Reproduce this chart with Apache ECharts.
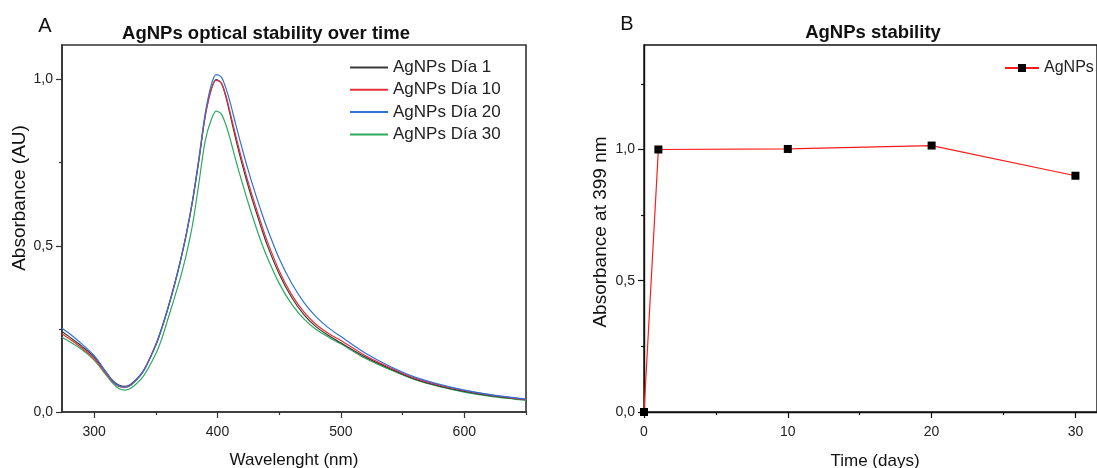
<!DOCTYPE html>
<html><head><meta charset="utf-8">
<script src="https://cdn.jsdelivr.net/npm/echarts@6/dist/echarts.min.js"></script>
<style>html,body{margin:0;padding:0;background:#fff}#c{width:1097px;height:468px}</style>
</head><body><div id="c"></div>
<script>
// ---- data ----
const wavelengths = [274,280,290,300,310,315,320,325,330,340,350,355,360,365,370,375,380,385,390,395,399,403,407,410,415,420,425,430,435,440,450,460,470,480,490,500,520,540,560,580,600,620,640,650];
const dia1  = [0.242,0.226,0.198,0.166,0.118,0.095,0.081,0.077,0.084,0.125,0.203,0.255,0.315,0.382,0.456,0.540,0.640,0.760,0.890,0.972,1.000,0.990,0.945,0.898,0.818,0.745,0.678,0.617,0.560,0.505,0.415,0.345,0.293,0.256,0.230,0.208,0.165,0.130,0.099,0.078,0.062,0.050,0.041,0.037];
const dia10 = [0.235,0.220,0.193,0.161,0.114,0.091,0.077,0.074,0.081,0.123,0.201,0.253,0.313,0.380,0.454,0.538,0.638,0.758,0.888,0.970,0.998,0.990,0.950,0.905,0.828,0.756,0.690,0.629,0.572,0.517,0.425,0.354,0.301,0.263,0.236,0.215,0.169,0.133,0.102,0.081,0.065,0.052,0.042,0.038];
const dia20 = [0.252,0.236,0.205,0.170,0.119,0.094,0.078,0.075,0.082,0.123,0.201,0.253,0.313,0.380,0.455,0.540,0.642,0.765,0.897,0.985,1.015,1.008,0.972,0.935,0.862,0.792,0.726,0.665,0.608,0.555,0.462,0.388,0.330,0.286,0.253,0.227,0.177,0.137,0.105,0.083,0.066,0.053,0.043,0.039];
const dia30 = [0.225,0.212,0.188,0.156,0.110,0.087,0.071,0.066,0.072,0.108,0.175,0.222,0.282,0.342,0.405,0.478,0.568,0.690,0.815,0.880,0.905,0.897,0.862,0.825,0.755,0.690,0.628,0.570,0.516,0.468,0.387,0.325,0.280,0.248,0.225,0.205,0.161,0.127,0.097,0.076,0.060,0.048,0.039,0.035];
const seriesNames = ['AgNPs Día 1','AgNPs Día 10','AgNPs Día 20','AgNPs Día 30'];

const days = [0, 1, 10, 20, 30];
const absorbance399 = [0, 1.000, 1.002, 1.015, 0.900];

const xTicksA = [300, 400, 500, 600];
const xMinorA = [350, 450, 550, 650];
const yTicks = [0, 0.5, 1.0];
const yMinorA = [0.25, 0.75];
const xTicksB = [0, 10, 20, 30];
const xMinorB = [5, 15, 25];
const yMinorB = [0.25, 0.75, 1.25];

// ---- chart ----
const FONT = "'Liberation Sans', Arial, sans-serif";
const chart = echarts.init(document.getElementById('c'), null, {renderer: 'canvas'});
const fmt = v => v.toFixed(1).replace('.', ',');
const pairs = ys => wavelengths.map((w, i) => [w, ys[i]]);
const colors = ['#3a3a3a', '#e8303a', '#2f72d8', '#2aaa5c'];
const lbl = {fontFamily: FONT, fontSize: 14, color: '#222'};

function majorAxis(extra) {
  return Object.assign({
    type: 'value', splitLine: {show: false},
    axisLine: {show: true, lineStyle: {color: '#333', width: 1.6}},
    axisTick: {show: true, inside: false, length: 6, lineStyle: {color: '#333', width: 1.2}},
    axisLabel: Object.assign({show: true, margin: 9}, lbl)
  }, extra);
}
function minorAxis(extra) {
  return Object.assign({
    type: 'value', splitLine: {show: false}, offset: 0,
    axisLine: {show: false},
    axisTick: {show: true, inside: false, length: 3, lineStyle: {color: '#333', width: 1.2}},
    axisLabel: {show: false}
  }, extra);
}

const option = {
  animation: false,
  backgroundColor: '#fff',
  grid: [
    {left: 62, top: 45, width: 464, height: 367, show: true, borderColor: '#333', borderWidth: 1.6, containLabel: false},
    {left: 644, top: 45, width: 456, height: 367, show: true, borderColor: '#111', borderWidth: 1.4, containLabel: false}
  ],
  xAxis: [
    majorAxis({gridIndex: 0, position: 'bottom', min: 274, max: 650, axisTick: {show: true, length: 6, customValues: xTicksA, lineStyle: {color: '#333', width: 1.2}}, axisLabel: Object.assign({margin: 13, customValues: xTicksA}, lbl)}),
    minorAxis({gridIndex: 0, position: 'bottom', min: 274, max: 650, axisTick: {show: true, length: 3, customValues: xMinorA, lineStyle: {color: '#333', width: 1.2}}}),
    majorAxis({gridIndex: 1, position: 'bottom', min: 0, max: 31.5, axisLine: {show: true, lineStyle: {color: '#111', width: 1.4}}, axisTick: {show: true, length: 6, customValues: xTicksB, lineStyle: {color: '#111', width: 1.2}}, axisLabel: Object.assign({margin: 13, customValues: xTicksB}, lbl)}),
    minorAxis({gridIndex: 1, position: 'bottom', min: 0, max: 31.5, axisTick: {show: true, length: 3, customValues: xMinorB, lineStyle: {color: '#111', width: 1.2}}})
  ],
  yAxis: [
    majorAxis({gridIndex: 0, position: 'left', min: 0, max: 1.104, axisTick: {show: true, length: 6, customValues: yTicks, lineStyle: {color: '#333', width: 1.2}}, axisLabel: Object.assign({margin: 9, customValues: yTicks, formatter: fmt}, lbl)}),
    minorAxis({gridIndex: 0, position: 'left', min: 0, max: 1.104, axisTick: {show: true, length: 3, customValues: yMinorA, lineStyle: {color: '#333', width: 1.2}}}),
    majorAxis({gridIndex: 1, position: 'left', min: 0, max: 1.398, axisLine: {show: true, lineStyle: {color: '#111', width: 1.4}}, axisTick: {show: true, length: 6, customValues: yTicks, lineStyle: {color: '#111', width: 1.2}}, axisLabel: Object.assign({margin: 9, customValues: yTicks, formatter: fmt}, lbl)}),
    minorAxis({gridIndex: 1, position: 'left', min: 0, max: 1.398, axisTick: {show: true, length: 3, customValues: yMinorB, lineStyle: {color: '#111', width: 1.2}}})
  ],
  legend: [
    {
      data: seriesNames, orient: 'vertical', left: 350, top: 59, padding: 0,
      itemWidth: 38, itemHeight: 2, itemGap: 5.3, icon: 'rect',
      textStyle: {fontFamily: FONT, fontSize: 17, color: '#222', lineHeight: 17}
    },
    {
      data: ['AgNPs'], orient: 'horizontal', left: 1004, top: 60, padding: 0,
      itemWidth: 34, itemHeight: 10,
      textStyle: {fontFamily: FONT, fontSize: 16, color: '#222'}
    }
  ],
  series: [
    ...[dia1, dia10, dia20, dia30].map((ys, i) => ({
      name: seriesNames[i], type: 'line', xAxisIndex: 0, yAxisIndex: 0,
      data: pairs(ys), showSymbol: false, symbol: 'none', smooth: 0.3,
      lineStyle: {color: colors[i], width: 1.2}, itemStyle: {color: colors[i]}, z: [3, 4, 5, 2][i]
    })),
    {
      name: 'AgNPs', type: 'line', xAxisIndex: 2, yAxisIndex: 2,
      data: days.map((d, i) => [d, absorbance399[i]]),
      symbol: 'rect', symbolSize: 8,
      lineStyle: {color: '#ff1a1a', width: 1.2}, itemStyle: {color: '#000'}
    }
  ],
  graphic: [
    {type: 'text', x: 45, y: 26, style: {text: 'A', font: `20px ${FONT}`, fill: '#111', align: 'center', verticalAlign: 'middle'}},
    {type: 'text', x: 627, y: 24, style: {text: 'B', font: `20px ${FONT}`, fill: '#111', align: 'center', verticalAlign: 'middle'}},
    {type: 'text', x: 266, y: 34, style: {text: 'AgNPs optical stability over time', font: `bold 18.5px ${FONT}`, fill: '#111', align: 'center', verticalAlign: 'middle'}},
    {type: 'text', x: 873, y: 33, style: {text: 'AgNPs stability', font: `bold 18.5px ${FONT}`, fill: '#111', align: 'center', verticalAlign: 'middle'}},
    {type: 'text', x: 294, y: 460, style: {text: 'Wavelenght (nm)', font: `17px ${FONT}`, fill: '#111', align: 'center', verticalAlign: 'middle'}},
    {type: 'text', x: 875, y: 461, style: {text: 'Time (days)', font: `17px ${FONT}`, fill: '#111', align: 'center', verticalAlign: 'middle'}},
    {type: 'text', x: 20, y: 198, rotation: Math.PI / 2, style: {text: 'Absorbance (AU)', font: `19px ${FONT}`, fill: '#111', align: 'center', verticalAlign: 'middle'}},
    {type: 'text', x: 601, y: 232, rotation: Math.PI / 2, style: {text: 'Absorbance at 399 nm', font: `19px ${FONT}`, fill: '#111', align: 'center', verticalAlign: 'middle'}}
  ]
};
chart.setOption(option);
</script></body></html>
